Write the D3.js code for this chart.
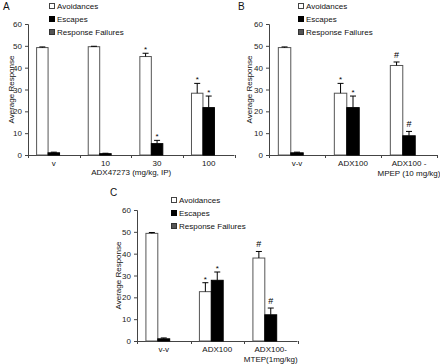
<!DOCTYPE html>
<html>
<head>
<meta charset="utf-8">
<script src="https://cdn.jsdelivr.net/npm/d3@7"></script>
<style>
  body { margin: 0; background: #fff; }
  svg { display: block; font-family: "Liberation Sans", Arial, sans-serif; }
</style>
</head>
<body>
<svg id="chart" width="440" height="364"></svg>
<script>
// series shared by all three panels
var seriesNames = ["Avoidances", "Escapes", "Response Failures"];
var seriesFill = ["#ffffff", "#000000", "#555555"];

// panel A
var catsA = ["v", "10", "30", "100"];
var avoidA = [49.2, 49.6, 45.1, 28.3];
var avoidErrA = [0.3, 0.2, 1.5, 4.5];
var escA = [1.0, 0.6, 5.2, 21.7];
var escErrA = [0.3, 0.2, 1.5, 5.3];
var failA = [0, 0, 0, 0];
var avoidMarkA = ["", "", "*", "*"];
var escMarkA = ["", "", "*", "*"];

// panel B
var catsB = [["v-v"], ["ADX100"], ["ADX100 -", "MPEP (10 mg/kg)"]];
var avoidB = [49.2, 28.3, 41.0];
var avoidErrB = [0.3, 4.5, 1.6];
var escB = [1.0, 21.7, 8.8];
var escErrB = [0.3, 5.3, 2.0];
var failB = [0, 0, 0];
var avoidMarkB = ["", "*", "#"];
var escMarkB = ["", "*", "#"];

// panel C
var catsC = [["v-v"], ["ADX100"], ["ADX100-", "MTEP(1mg/kg)"]];
var avoidC = [49.3, 22.6, 38.0];
var avoidErrC = [0.4, 4.1, 3.0];
var escC = [1.0, 27.8, 12.0];
var escErrC = [0.4, 3.8, 3.1];
var failC = [0, 0, 0];
var avoidMarkC = ["", "*", "#"];
var escMarkC = ["", "*", "#"];

var yTicks = [0, 10, 20, 30, 40, 50, 60];

var svg = d3.select("#chart");

function drawPanel(p){
	var g = svg.append("g");
	var cats = p.cats.map(function(c){ return typeof c === "string" ? [c] : c; });
	var x = d3.scaleBand().domain(d3.range(cats.length)).range([p.x0, p.x1]).paddingInner(0).paddingOuter(0);
	var x1 = d3.scaleBand().domain([0,1,2]).range([0, x.bandwidth()]).paddingOuter(0.75 / (3 + 1.5) * 3 / 1.5 * 0.5 * 2 / 2).paddingInner(0);
	// gap width 150% -> bar = band/4.5, outer gap = 0.75 bar each side
	var bw = x.bandwidth() / 4.5;
	var y = d3.scaleLinear().domain([0, 60]).range([p.y0, p.y1]);

	// y axis
	var ya = g.append("g").attr("transform", "translate(" + p.x0 + ",0)")
		.call(d3.axisLeft(y).tickValues(yTicks).tickSize(3).tickPadding(3));
	ya.select(".domain").attr("stroke", "#444");
	ya.selectAll(".tick line").attr("stroke", "#444");
	ya.selectAll(".tick text").attr("font-size", 8).attr("fill", "#222").attr("font-family", "Liberation Sans, Arial");

	// x axis line with ticks at category boundaries
	g.append("line").attr("x1", p.x0).attr("x2", p.x1).attr("y1", p.y0 + 0.5).attr("y2", p.y0 + 0.5).attr("stroke", "#444");
	d3.range(cats.length + 1).forEach(function(i){
		var xx = Math.round(p.x0 + i * x.bandwidth()) + 0.5;
		g.append("line").attr("x1", xx).attr("x2", xx).attr("y1", p.y0).attr("y2", p.y0 + 3).attr("stroke", "#444");
	});

	// bars
	var series = [
		{vals: p.avoid, err: p.avoidErr, marks: p.avoidMark},
		{vals: p.esc, err: p.escErr, marks: p.escMark},
		{vals: p.fail, err: null, marks: null}
	];
	series.forEach(function(s, si){
		s.vals.forEach(function(v, ci){
			var bx = x(ci) + 0.75 * bw + si * bw;
			var top = y(v);
			if(v > 0){
				g.append("rect").attr("x", bx).attr("y", top).attr("width", bw).attr("height", p.y0 - top)
					.attr("fill", seriesFill[si]).attr("stroke", si === 0 ? "#555" : "#000").attr("stroke-width", 1);
			}
			if(s.err){
				var cx = bx + bw / 2;
				var cap = y(v + s.err[ci]);
				g.append("line").attr("x1", cx).attr("x2", cx).attr("y1", top).attr("y2", cap).attr("stroke", "#000");
				g.append("line").attr("x1", cx - 3).attr("x2", cx + 3).attr("y1", cap).attr("y2", cap).attr("stroke", "#000");
				var m = s.marks[ci];
				if(m){
					g.append("text").attr("x", cx).attr("y", m === "#" ? cap - 4 : cap - 1)
						.attr("text-anchor", "middle").attr("font-size", m === "#" ? 9 : 8).attr("fill", "#000").text(m);
				}
			}
		});
	});

	// category labels
	cats.forEach(function(lines, ci){
		lines.forEach(function(t, li){
			g.append("text").attr("x", x(ci) + x.bandwidth() / 2).attr("y", p.y0 + 11 + li * 10)
				.attr("text-anchor", "middle").attr("font-size", 8).attr("fill", "#111").text(t);
		});
	});
	if(p.xTitle){
		g.append("text").attr("x", (p.x0 + p.x1) / 2).attr("y", p.y0 + 20)
			.attr("text-anchor", "middle").attr("font-size", 8).attr("fill", "#111").text(p.xTitle);
	}

	// y title
	g.append("text").attr("transform", "translate(" + p.yTitleX + "," + ((p.y0 + p.y1) / 2) + ") rotate(-90)")
		.attr("text-anchor", "middle").attr("font-size", 8).attr("fill", "#111").text("Average Response");

	// panel letter
	g.append("text").attr("x", p.lx).attr("y", p.ly).attr("font-size", 10).attr("fill", "#111").text(p.letter);

	// legend
	seriesNames.forEach(function(n, i){
		var ry = p.legY + i * 13;
		g.append("rect").attr("x", p.legX + 0.5).attr("y", ry - 2.5).attr("width", 5).attr("height", 5)
			.attr("fill", seriesFill[i]).attr("stroke", i === 0 ? "#444" : (i === 1 ? "#000" : "#333"));
		g.append("text").attr("x", p.legX + 8).attr("y", ry + 3).attr("font-size", 8).attr("fill", "#111").text(n);
	});
}

drawPanel({letter: "A", lx: 3, ly: 10, x0: 28, x1: 234.5, y0: 155, y1: 24,
	cats: catsA, avoid: avoidA, avoidErr: avoidErrA, esc: escA, escErr: escErrA, fail: failA,
	avoidMark: avoidMarkA, escMark: escMarkA, xTitle: "ADX47273 (mg/kg, IP)", yTitleX: 14,
	legX: 49, legY: 6});

drawPanel({letter: "B", lx: 238, ly: 10, x0: 269, x1: 437, y0: 155, y1: 24,
	cats: catsB, avoid: avoidB, avoidErr: avoidErrB, esc: escB, escErr: escErrB, fail: failB,
	avoidMark: avoidMarkB, escMark: escMarkB, xTitle: null, yTitleX: 252,
	legX: 298, legY: 6});

drawPanel({letter: "C", lx: 110, ly: 196, x0: 137, x1: 297.5, y0: 341, y1: 210,
	cats: catsC, avoid: avoidC, avoidErr: avoidErrC, esc: escC, escErr: escErrC, fail: failC,
	avoidMark: avoidMarkC, escMark: escMarkC, xTitle: null, yTitleX: 121,
	legX: 171, legY: 200});
</script>
</body>
</html>
